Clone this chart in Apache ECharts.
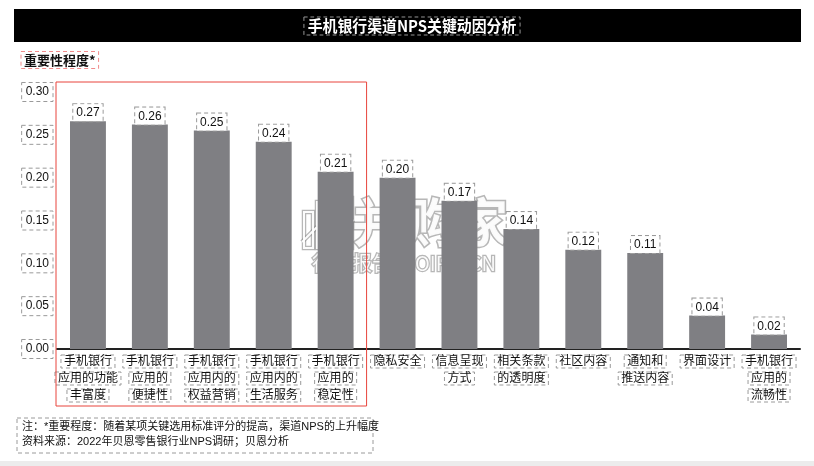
<!DOCTYPE html>
<html>
<head>
<meta charset="utf-8">
<script src="https://cdn.jsdelivr.net/npm/echarts@6/dist/echarts.min.js"></script>
<style>html,body{margin:0;padding:0;background:#fff;}#c{width:814px;height:466px;}</style>
</head>
<body>
<div id="c"></div>
<script>
var titleText = '手机银行渠道NPS关键动因分析';
var yName = '重要性程度*';
var categories = [
  '手机银行\n应用的功能\n丰富度',
  '手机银行\n应用的\n便捷性',
  '手机银行\n应用内的\n权益营销',
  '手机银行\n应用内的\n生活服务',
  '手机银行\n应用的\n稳定性',
  '隐私安全',
  '信息呈现\n方式',
  '相关条款\n的透明度',
  '社区内容',
  '通知和\n推送内容',
  '界面设计',
  '手机银行\n应用的\n流畅性'
];
var values = [0.266, 0.262, 0.255, 0.242, 0.207, 0.200, 0.173, 0.140, 0.116, 0.112, 0.039, 0.017];
var labels = ['0.27','0.26','0.25','0.24','0.21','0.20','0.17','0.14','0.12','0.11','0.04','0.02'];
var yTicks = ['0.00','0.05','0.10','0.15','0.20','0.25','0.30'];
var noteLines = ['注：*重要程度：随着某项关键选用标准评分的提高，渠道NPS的上升幅度', '资料来源：2022年贝恩零售银行业NPS调研；贝恩分析'];

var FONT = '"Liberation Sans", "Noto Sans CJK SC", sans-serif';
var chart = echarts.init(document.getElementById('c'));

var option = {
  animation: false,
  backgroundColor: '#fff',
  grid: {left: 57, right: 14, top: 92, bottom: 117, containLabel: false},
  xAxis: {
    type: 'category',
    data: categories,
    axisLine: {lineStyle: {color: '#222', width: 2}},
    axisTick: {show: false},
    axisLabel: {
      interval: 0, margin: 4, color: '#111', fontFamily: FONT, fontSize: 12,
      formatter: function (v) {
        return v.split('\n').map(function (s) { return '{b|' + s + '}'; }).join('\n');
      },
      rich: {
        b: {fontFamily: FONT, fontSize: 12, color: '#111', lineHeight: 17, padding: [1, 3, 0, 3],
            borderColor: '#9a9a9a', borderWidth: 1, borderType: [4, 3]}
      }
    }
  },
  yAxis: {
    type: 'value', min: 0, max: 0.3, interval: 0.05,
    splitLine: {show: false}, axisLine: {show: false}, axisTick: {show: false},
    axisLabel: {
      margin: 4, color: '#111', fontFamily: FONT, fontSize: 12,
      formatter: function (v) { return yTicks[Math.round(v / 0.05)]; },
      padding: [4, 4, 3, 4], borderColor: '#9a9a9a', borderWidth: 1, borderType: [4, 3]
    }
  },
  series: [{
    type: 'bar',
    data: values,
    barWidth: '58%',
    itemStyle: {color: '#7f7f83'},
    label: {
      show: true, position: 'top', distance: 0,
      formatter: function (p) { return labels[p.dataIndex]; },
      color: '#111', fontFamily: FONT, fontSize: 12,
      padding: [3, 3, 2, 3], borderColor: '#9a9a9a', borderWidth: 1, borderType: [4, 3],
      backgroundColor: '#fff'
    },
    z: 2
  }]
};
chart.setOption(option);

// decorations computed from axis positions
var band = chart.convertToPixel({xAxisIndex: 0}, 1) - chart.convertToPixel({xAxisIndex: 0}, 0);
var x0 = chart.convertToPixel({xAxisIndex: 0}, 0) - band / 2;
var x5 = chart.convertToPixel({xAxisIndex: 0}, 4) + band / 2;

var HALO = 'rgba(135,135,135,0.6)';
var WHITE = 'rgba(255,255,255,0.95)';
var wmBars = [[304, 212, 36], [317, 202, 46], [330, 206, 42], [343, 198, 50]];
var wmChildren = [];
wmChildren.push({type: 'text', x: 352, y: 222, z: 1, style: {text: '并购家', font: 'bold 52px "Noto Sans CJK SC", sans-serif', verticalAlign: 'middle', fill: HALO, stroke: HALO, lineWidth: 3}});
wmChildren.push({type: 'text', x: 312, y: 263, z: 1, style: {text: '行业报告 IPOIPO.CN', font: '20px "Noto Sans CJK SC", sans-serif', verticalAlign: 'middle', fill: HALO, stroke: HALO, lineWidth: 2.5}});
wmBars.forEach(function (b) {
  wmChildren.push({type: 'rect', z: 1, shape: {x: b[0], y: b[1], width: 9, height: b[2]}, style: {fill: 'none', stroke: HALO, lineWidth: 4.5}});
});
wmChildren.push({type: 'polyline', z: 1, shape: {points: [[302, 242], [316, 228], [330, 234], [354, 220]]}, style: {fill: 'none', stroke: HALO, lineWidth: 4.5}});
wmChildren.push({type: 'text', x: 352, y: 222, z: 2, style: {text: '并购家', font: 'bold 52px "Noto Sans CJK SC", sans-serif', verticalAlign: 'middle', fill: WHITE}});
wmChildren.push({type: 'text', x: 312, y: 263, z: 2, style: {text: '行业报告 IPOIPO.CN', font: '20px "Noto Sans CJK SC", sans-serif', verticalAlign: 'middle', fill: WHITE}});
wmBars.forEach(function (b) {
  wmChildren.push({type: 'rect', z: 2, shape: {x: b[0], y: b[1], width: 9, height: b[2]}, style: {fill: 'none', stroke: WHITE, lineWidth: 2}});
});
wmChildren.push({type: 'polyline', z: 2, shape: {points: [[302, 242], [316, 228], [330, 234], [354, 220]]}, style: {fill: 'none', stroke: WHITE, lineWidth: 2}});

chart.setOption({
  graphic: [
    {type: 'rect', shape: {x: 14, y: 9, width: 787, height: 33}, style: {fill: '#000'}, z: 10},
    {type: 'text', x: 412, y: 26, scaleX: 0.93, z: 11, style: {
      text: titleText, fill: '#fff', font: 'bold 16px "Noto Sans CJK SC", sans-serif',
      align: 'center', verticalAlign: 'middle', padding: [1, 4, 1, 4],
      borderColor: '#9a9a9a', borderWidth: 1, borderDash: [4, 3]}},
    {type: 'text', x: 21, y: 60, z: 11, style: {
      text: yName, fill: '#111', font: 'bold 13px "Noto Sans CJK SC", sans-serif',
      align: 'left', verticalAlign: 'middle', padding: [2, 3, 2, 3],
      borderColor: '#f08a8a', borderWidth: 1, borderDash: [4, 3]}},
    {type: 'rect', shape: {x: x0 - 1, y: 82, width: x5 - x0 + 1, height: 324},
      style: {fill: 'none', stroke: '#e8453c', lineWidth: 1}, z: 12},
    {type: 'rect', shape: {x: 17, y: 418, width: 356, height: 35},
      style: {fill: 'none', stroke: '#9a9a9a', lineWidth: 1, lineDash: [4, 3]}, z: 10},
    {type: 'text', x: 22, y: 427, z: 11, style: {text: noteLines[0], fill: '#111', font: '11px ' + FONT, verticalAlign: 'middle'}},
    {type: 'text', x: 22, y: 442, z: 11, style: {text: noteLines[1], fill: '#111', font: '11px ' + FONT, verticalAlign: 'middle'}},
    {type: 'rect', shape: {x: 0, y: 461, width: 814, height: 5}, style: {fill: '#ececec'}, z: 1},
    {type: 'group', z: 20, children: wmChildren}
  ]
});
</script>
</body>
</html>
